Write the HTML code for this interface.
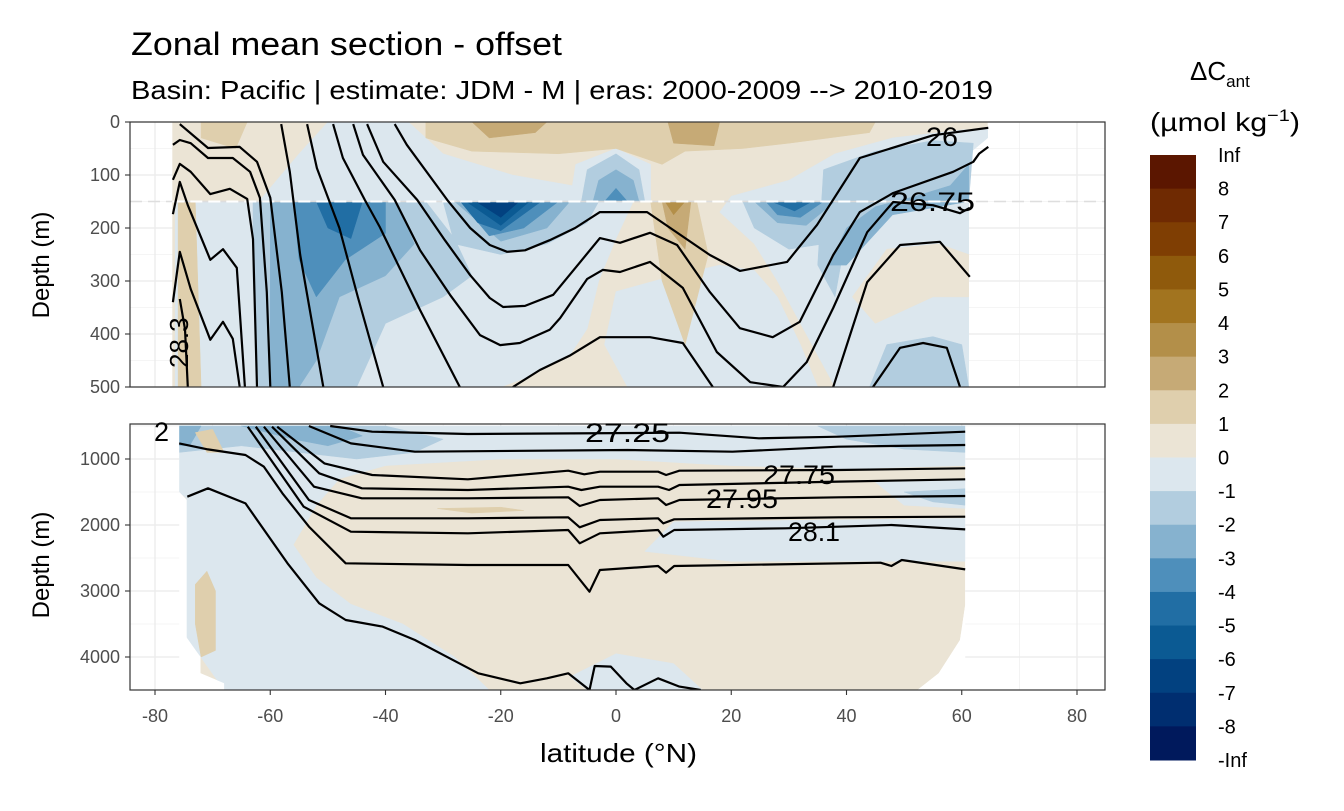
<!DOCTYPE html>
<html><head><meta charset="utf-8"><style>
html,body{margin:0;padding:0;background:#fff}
svg text{font-family:"Liberation Sans",Arial,sans-serif}
</style></head><body>
<svg id="chart" xmlns="http://www.w3.org/2000/svg" width="1344" height="806" viewBox="0 0 1344 806">
<defs>
<clipPath id="clipTop"><rect x="130" y="122" width="975" height="265"/></clipPath>
<clipPath id="clipBot"><rect x="130" y="424" width="975" height="266"/></clipPath>
</defs>
<text x="131" y="55" font-size="32" textLength="431" lengthAdjust="spacingAndGlyphs" fill="#000">Zonal mean section - offset</text>
<text x="131" y="99" font-size="26" textLength="862" lengthAdjust="spacingAndGlyphs" fill="#000">Basin: Pacific | estimate: JDM - M | eras: 2000-2009 --&gt; 2010-2019</text>
<g id="gridTop"></g>
<g id="gridBot"></g>
<g id="fillTop" clip-path="url(#clipTop)"></g>
<g id="fillBot" clip-path="url(#clipBot)"></g>
<g id="lineTop" clip-path="url(#clipTop)"></g>
<g id="lineBot" clip-path="url(#clipBot)"></g>
<rect x="130" y="122" width="975" height="265" fill="none" stroke="#333" stroke-width="1.2"/>
<rect x="130" y="424" width="975" height="266" fill="none" stroke="#333" stroke-width="1.2"/>
<g id="axes"></g>
<g id="labels" font-size="27" fill="#000">
<text transform="translate(188,368) rotate(-90)" font-size="26">28.3</text>
<text x="926" y="146" textLength="32" lengthAdjust="spacingAndGlyphs">26</text>
<text x="890" y="211" textLength="85" lengthAdjust="spacingAndGlyphs">26.75</text>
<text x="585" y="442" textLength="85" lengthAdjust="spacingAndGlyphs">27.25</text>
<text x="763" y="484" textLength="72" lengthAdjust="spacingAndGlyphs">27.75</text>
<text x="706" y="508" textLength="72" lengthAdjust="spacingAndGlyphs">27.95</text>
<text x="788" y="541" textLength="52" lengthAdjust="spacingAndGlyphs">28.1</text>
<text x="154" y="441">2</text>
</g>
<text transform="translate(49,265) rotate(-90)" font-size="24" text-anchor="middle">Depth (m)</text>
<text transform="translate(49,565) rotate(-90)" font-size="24" text-anchor="middle">Depth (m)</text>
<text x="540" y="762" font-size="26" textLength="157" lengthAdjust="spacingAndGlyphs">latitude (°N)</text>
<g id="legend">
<text x="1190" y="80" font-size="26">ΔC<tspan font-size="17" dy="7">ant</tspan></text>
<text x="1150" y="131" font-size="26" textLength="150" lengthAdjust="spacingAndGlyphs">(µmol kg<tspan font-size="17" dy="-10">−1</tspan><tspan dy="10">)</tspan></text>
</g>
</svg>
<script>
const legendLabels=["Inf","8","7","6","5","4","3","2","1","0","-1","-2","-3","-4","-5","-6","-7","-8","-Inf"];
const binColors=["#5b1600","#6f2a02","#7f3e03","#8f5a0c","#a2741f","#b38f49","#c6aa76","#dfcfad","#ebe4d5","#dce7ee","#b2cddf","#86b2cf","#4e8fbb","#216ea4","#0b5a93","#024180","#002e70","#00195c"];
const xTicks=[-80,-60,-40,-20,0,20,40,60,80];
const topTicks=[0,100,200,300,400,500];
const botTicks=[1000,2000,3000,4000];

const topDomain=[[-77,0],[64.5,0],[64.5,30],[61.2,60],[61.2,500],[-77,500]];
const topFills=[
[9,[[-50,0],[-36,0],[-30,60],[-18,100],[-5,125],[3,150],[-62,150],[-55,60]]],
[9,[[-76.5,150],[3,150],[0,220],[-3,300],[-5,390],[-8,440],[-15,480],[-20,500],[-76.5,500]]],
[9,[[0,320],[10,290],[18,270],[24,280],[28,330],[32,420],[35,500],[2,500],[-2,420]]],
[9,[[20,140],[30,110],[38,60],[48,30],[60,15],[64.5,12],[64.5,30],[61.2,60],[61.2,500],[38,500],[33,400],[28,300],[24,230],[18,170]]],
[9,[[-8,150],[-7,80],[0,50],[6,80],[6,150]]],
[8,[[41,330],[47,240],[56,230],[61.2,250],[61.2,330],[55,330],[45,380]]],
[7,[[-33,0],[45,0],[44,20],[30,40],[22,50],[12,55],[8,80],[0,50],[-10,60],[-25,55],[-33,30]]],
[7,[[6,150],[14,150],[16,250],[12,420],[8,300]]],
[7,[[-76,150],[-73,150],[-72,500],[-76,500]]],
[7,[[-72,0],[-64,0],[-66,50],[-72,30]]],
[6,[[-25,0],[-12,0],[-14,20],[-22,30]]],
[6,[[9,0],[18,0],[17,45],[10,40]]],
[6,[[8,150],[13,150],[12,240],[9,200]]],
[5,[[8.5,150],[12,150],[10,175]]],
[10,[[-63,150],[-33,150],[-28,220],[-25,290],[-30,330],[-40,380],[-45,500],[-62,500],[-63,300]]],
[10,[[-30,150],[-3,150],[-5,190],[-12,230],[-20,250],[-28,230]]],
[10,[[-6,150],[-5,90],[0,60],[4,90],[5,150]]],
[10,[[22,150],[40,150],[36,230],[30,240],[24,200]]],
[10,[[36,90],[45,55],[55,35],[62,40],[61.2,150],[50,160],[45,180],[40,210],[38,330],[35,270]]],
[10,[[44,500],[47,420],[55,405],[60,420],[61.2,500]]],
[11,[[-60,150],[-38,150],[-35,230],[-40,290],[-48,330],[-52,450],[-55,500],[-60,500]]],
[11,[[-28,150],[-8,150],[-12,200],[-20,225]]],
[11,[[-4,150],[-3,110],[0,90],[3,110],[4,150]]],
[11,[[24,150],[38,150],[33,195],[28,190]]],
[11,[[37,270],[40,200],[45,160],[52,140],[58,120],[61.2,80],[61.2,150],[48,175],[40,270]]],
[12,[[-56,150],[-40,150],[-40,210],[-47,260],[-52,330],[-55,260]]],
[12,[[-27,150],[-10,150],[-16,200],[-22,215]]],
[12,[[-2,150],[0,125],[2,150]]],
[12,[[26,150],[36,150],[32,180],[28,175]]],
[13,[[-52,150],[-44,150],[-46,220],[-50,200]]],
[13,[[-27,150],[-13,150],[-20,205],[-24,190]]],
[13,[[27,150],[34,150],[31,168]]],
[14,[[-26,150],[-15,150],[-20,195]]],
[15,[[-24,152],[-17,152],[-20,180]]]
];
const botDomain=[[-75.8,500],[60.6,500],[60.6,3212],[59.7,3742],[56,4247],[52.3,4500],[-68,4500],[-68,4399],[-72.1,4247],[-72.1,3995],[-73.7,3742],[-74.5,1620],[-75.8,1500]];
const botFills=[
[9,[[-75.8,500],[60.6,500],[60.6,1100],[40,1150],[20,1100],[0,1000],[-20,1000],[-40,1100],[-48,1300],[-52,1700],[-56,2300],[-52,2800],[-46,3200],[-37,3500],[-28,4000],[-22,4500],[-68,4500],[-74.5,3700],[-74.5,1600],[-75.8,1500]]],
[9,[[10,1950],[60.6,1900],[60.6,2550],[20,2550],[5,2400]]],
[9,[[45,1350],[60.6,1300],[60.6,1750],[50,1700]]],
[9,[[-8,4300],[0,3950],[10,4100],[15,4500],[-5,4500]]],
[10,[[-75.8,500],[-40,500],[-30,700],[-35,900],[-45,1000],[-55,900],[-65,800],[-75.8,900]]],
[10,[[35,500],[60.6,500],[60.6,900],[50,850],[40,700]]],
[10,[[50,1500],[60.6,1450],[60.6,1700],[55,1650]]],
[11,[[-65,500],[-48,500],[-44,650],[-50,800],[-56,700]]],
[11,[[-75.8,500],[-72,500],[-74,800],[-75.8,800]]],
[7,[[-73,2900],[-71,2700],[-69.5,3000],[-69.5,3900],[-72,4000],[-73,3500]]],
[7,[[-31,1750],[-20,1730],[-16,1780],[-25,1820]]],
[7,[[-73,600],[-70,550],[-68,900],[-71,900]]]
];

const topLines=[
[[-75.7,4],[-70.8,49],[-65.3,47],[-62.3,75],[-60,143],[-58,321],[-56.6,500]],
[[-76.9,43],[-75.7,34],[-73.8,40],[-70.8,68],[-66.5,68],[-63.5,94],[-61.8,143],[-60.6,321],[-60,500]],
[[-76.9,109],[-75.7,79],[-73.8,94],[-70.4,136],[-67,126],[-64,145],[-63,221],[-62.3,500]],
[[-76.9,174],[-75.7,113],[-74.3,157],[-70.4,260],[-68.2,240],[-65.8,275],[-64.4,500]],
[[-76.9,340],[-75.7,245],[-73.8,315],[-70.4,411],[-68.2,377],[-66.5,409],[-65.3,500]],
[[-75.7,334],[-74.8,391],[-74.3,500]],
[[-58.1,4],[-56.6,94],[-54.8,251],[-50.8,500]],
[[-53.6,4],[-51.9,87],[-48,200],[-44.8,330],[-40.4,500]],
[[-49.1,4],[-47.4,68],[-43.6,147],[-41,198],[-34,355],[-27.1,500]],
[[-45.6,4],[-43.9,62],[-38.4,147],[-34,242],[-28.8,326],[-23.6,402],[-20.1,421],[-16.7,417],[-11.5,392],[-9.7,370],[-5,296],[-2.3,279],[0.7,283],[5.9,264],[11.6,313],[17.5,434],[23.3,491],[29,500],[33.1,453],[37.7,351],[43.6,208],[48.1,151],[55,157],[59.7,172],[61.4,162]],
[[-43.2,4],[-40.4,75],[-34.5,147],[-29.7,223],[-25.3,289],[-21.9,332],[-19.6,349],[-15.8,347],[-10.9,326],[-6.2,264],[-2.8,219],[0.7,228],[5.9,209],[10.6,232],[16.3,321],[21.5,389],[27.2,406],[31.9,377],[37.7,251],[42.3,170],[48.1,134],[58.5,94],[62,75],[63,60],[64.6,47]],
[[-38.4,4],[-36.3,43],[-29.3,147],[-25.3,200],[-21.9,232],[-18.9,245],[-15.8,242],[-11.5,223],[-7.1,200],[-2.8,170],[5.4,170],[16.3,251],[21.5,281],[29.7,264],[34.9,194],[42.3,68],[55,25],[64.6,11]],
[[-17.9,500],[-13.2,468],[-7.9,440],[-2.8,406],[5.9,406],[11.6,417],[16.8,500]],
[[37.7,500],[43.6,302],[49.3,232],[56.2,226],[61.4,292]],
[[44.6,500],[49.3,426],[53.3,417],[57.4,426],[59.7,500]]
];
const botLines=[
[[-49.6,500],[-42.3,586],[-25.7,621],[11,601],[24.8,687],[38.6,662],[60.6,586]],
[[-53.3,500],[-46,763],[-34.9,889],[2,864],[20.2,889],[38.6,813],[60.6,788]],
[[-58.8,510],[-50.6,1066],[-42.3,1242],[-25.7,1308],[-8.3,1177],[-5.5,1232],[-2.8,1192],[7.3,1192],[8.7,1242],[11,1177],[38.6,1167],[60.6,1141]],
[[-59.7,510],[-51.5,1217],[-44.1,1444],[-25.7,1470],[-8.3,1419],[-6,1470],[-2.8,1419],[7.3,1419],[9.2,1470],[11,1394],[38.6,1343],[60.6,1308]],
[[-61.1,510],[-52.4,1419],[-44.1,1596],[-25.7,1596],[-8.3,1581],[-6.3,1712],[-2.8,1621],[7.3,1596],[8.7,1697],[11,1621],[38.6,1581],[60.6,1561]],
[[-62.5,510],[-53.3,1621],[-46,1899],[-25.7,1899],[-8.3,1884],[-6.3,2035],[-2.8,1924],[7.3,1899],[8.2,1975],[10.1,1914],[38.6,1884],[60.6,1874]],
[[-63.9,510],[-54.2,1722],[-46,2101],[-25.7,2126],[-8.3,2076],[-6.3,2278],[-2.8,2126],[7.3,2076],[8.2,2177],[10.1,2076],[29.4,2050],[47.8,2000],[60.6,2066]],
[[-75.8,763],[-70.8,854],[-64.3,939],[-61.1,1116],[-57.9,1520],[-53.3,2025],[-46.9,2581],[-25.7,2606],[-8.3,2606],[-4.6,3010],[-2.8,2682],[7.3,2621],[8.7,2722],[10.1,2621],[45.9,2571],[47.8,2621],[49.6,2530],[60.6,2672]],
[[-74.4,1571],[-70.8,1444],[-64.3,1672],[-57,2581],[-51.5,3187],[-46.9,3439],[-40.5,3540],[-34.9,3742],[-29.4,3995],[-23.9,4247],[-16.6,4399],[-12,4323],[-8.3,4247],[-4.6,4500],[-3.7,4136],[-0.9,4146],[1.8,4399],[3.2,4500]],
[[3.2,4500],[7.3,4323],[11,4449],[14.7,4500]]
];

const NS="http://www.w3.org/2000/svg";
const xS=lat=>616+lat*5.7625;
const yT=d=>122+d*0.53;
const yB=d=>459+(d-1000)*0.066;
function mk(tag,attrs,parent){const e=document.createElementNS(NS,tag);for(const k in attrs)e.setAttribute(k,attrs[k]);parent.appendChild(e);return e;}
function pts(arr,yf){return arr.map(p=>xS(p[0]).toFixed(1)+","+yf(p[1]).toFixed(1)).join(" ");}

const gT=document.getElementById("gridTop"), gB=document.getElementById("gridBot");
for(let lat=-90;lat<=90;lat+=10){
  const x=xS(lat); if(x<130||x>1105) continue;
  const w=lat%20===0?1.3:0.6;
  const l1=mk("line",{x1:x,x2:x,y1:122,y2:387,stroke:"#ebebeb","stroke-width":w},gT);
  
  
  const l2=mk("line",{x1:x,x2:x,y1:424,y2:690,stroke:"#ebebeb","stroke-width":w},gB);
  
  
}
for(let d=0;d<=500;d+=50){
  const l=mk("line",{x1:130,x2:1105,y1:yT(d),y2:yT(d),stroke:"#ebebeb","stroke-width":d%100===0?1.3:0.6},gT);
  
  
}
for(let d=500;d<=4500;d+=500){
  const l=mk("line",{x1:130,x2:1105,y1:yB(d),y2:yB(d),stroke:"#ebebeb","stroke-width":d%1000===0?1.3:0.6},gB);
  
  
}

const fT=document.getElementById("fillTop"), fB=document.getElementById("fillBot");
const dT=mk("polygon",{points:pts(topDomain,yT),fill:binColors[8]},fT);


topFills.forEach(f=>{
  const p=mk("polygon",{points:pts(f[1],yT),fill:binColors[f[0]],stroke:binColors[f[0]],"stroke-width":0.5,"stroke-linejoin":"round"},fT);
  
  
});
const dB=mk("polygon",{points:pts(botDomain,yB),fill:binColors[8]},fB);


botFills.forEach(f=>{
  const p=mk("polygon",{points:pts(f[1],yB),fill:binColors[f[0]],stroke:binColors[f[0]],"stroke-width":0.5},fB);
  
  
});
const maskPts=[[-90,500],[-75.8,500],[-75.8,1500],[-74.5,1620],[-74.5,3742],[-72.1,3995],[-72.1,4247],[-68,4399],[-68,4500],[-90,4500]];
const m1=mk("polygon",{points:pts(maskPts,yB),fill:"#fff"},fB);


const maskR=[[60.6,500],[90,500],[90,4500],[52.3,4500],[56,4247],[59.7,3742],[60.6,3212]];
const m2=mk("polygon",{points:pts(maskR,yB),fill:"#fff"},fB);


for(let lat=-90;lat<=90;lat+=10){const x=xS(lat); if(x<130||x>1105) continue;
  if(lat>60||lat<-75){const l=mk("line",{x1:x,x2:x,y1:424,y2:690,stroke:"#ebebeb","stroke-width":lat%20===0?1.3:0.6},fB);
  
  }}
for(let d=500;d<=4500;d+=500){
  const l=mk("line",{x1:130,x2:xS(-75.8),y1:yB(d),y2:yB(d),stroke:"#ebebeb","stroke-width":d%1000===0?1.3:0.6},fB);
  
  
  const r=mk("line",{x1:xS(60.6),x2:1105,y1:yB(d),y2:yB(d),stroke:"#ebebeb","stroke-width":d%1000===0?1.3:0.6},fB);
  
  
}

const dl=mk("line",{x1:130,x2:1105,y1:yT(150),y2:yT(150),stroke:"#dedede","stroke-width":1.5,"stroke-dasharray":"12 6"},fT);


const dl2=mk("line",{x1:xS(-77),x2:xS(61.2),y1:yT(150),y2:yT(150),stroke:"#fff","stroke-width":2,"stroke-dasharray":"12 6"},fT);



const lT=document.getElementById("lineTop"), lB=document.getElementById("lineBot");
topLines.forEach(l=>{
  const p=mk("polyline",{points:pts(l,yT),fill:"none",stroke:"#000","stroke-width":2.2,"stroke-linejoin":"round"},lT);
  
  
});
botLines.forEach(l=>{
  const p=mk("polyline",{points:pts(l,yB),fill:"none",stroke:"#000","stroke-width":2.2,"stroke-linejoin":"round"},lB);
  
  
});

const ax=document.getElementById("axes");
xTicks.forEach(v=>{
  const x=xS(v);
  const t=mk("line",{x1:x,x2:x,y1:690,y2:695,stroke:"#333","stroke-width":1.1},ax);
  
  
  const tx=mk("text",{x:x,y:722,"font-size":18,fill:"#4d4d4d","text-anchor":"middle"},ax);
  tx.textContent=v;
  
  
});
topTicks.forEach(v=>{
  const y=yT(v);
  const t=mk("line",{x1:125,x2:130,y1:y,y2:y,stroke:"#333","stroke-width":1.1},ax);
  
  
  const tx=mk("text",{x:120,y:y+6,"font-size":18,fill:"#4d4d4d","text-anchor":"end"},ax);
  tx.textContent=v;
  
  
});
botTicks.forEach(v=>{
  const y=yB(v);
  const t=mk("line",{x1:125,x2:130,y1:y,y2:y,stroke:"#333","stroke-width":1.1},ax);
  
  
  const tx=mk("text",{x:120,y:y+6,"font-size":18,fill:"#4d4d4d","text-anchor":"end"},ax);
  tx.textContent=v;
  
  
});

const lg=document.getElementById("legend");
const cbTop=155, cbBot=760, bh=(cbBot-cbTop)/binColors.length;
binColors.forEach((c,i)=>{
  const r=mk("rect",{x:1150,y:cbTop+i*bh,width:46,height:bh+0.5,fill:c},lg);
  
  
});
legendLabels.forEach((s,i)=>{
  const t=mk("text",{x:1218,y:cbTop+i*bh+7,"font-size":20,fill:"#000"},lg);
  t.textContent=s;
  
  
});
</script>
</body></html>
